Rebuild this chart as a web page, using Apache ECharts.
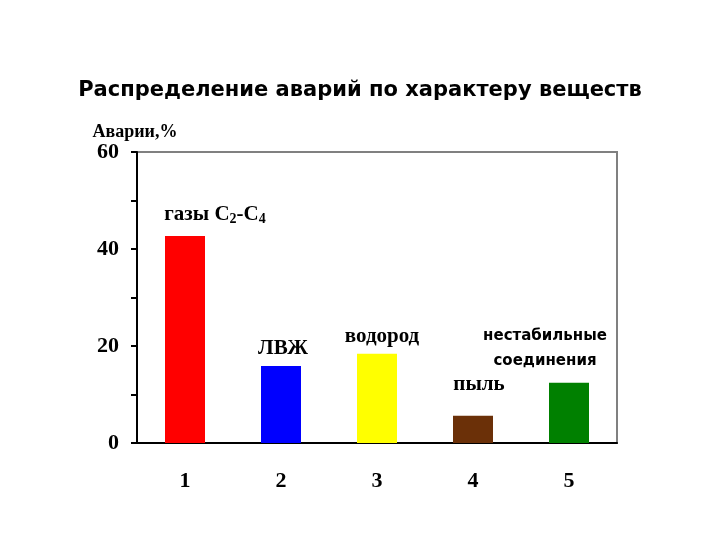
<!DOCTYPE html>
<html>
<head>
<meta charset="utf-8">
<script src="https://cdn.jsdelivr.net/npm/echarts@6/dist/echarts.min.js"></script>
<style>html,body{margin:0;padding:0;background:#fff}#chart{width:720px;height:540px}</style>
</head>
<body>
<div id="chart"></div>
<script>
"use strict";

const categories = ["1", "2", "3", "4", "5"];
const values = [42.7, 15.9, 18.4, 5.6, 12.4];
const barColors = ["#ff0000", "#0000ff", "#ffff00", "#6b3008", "#008000"];
const barNames = ["газы {sub|C}{s|2}{sub|-C}{s|4}", "ЛВЖ", "водород", "пыль", "нестабильные\nсоединения"];
const yTicks = [0, 20, 40, 60];

const serif = "Liberation Serif";
// per-bar label tweaks
const labelOffsets = [[30, -4], [2, 0], [5, 0], [6, -14], [-24, -4]];

const chart = echarts.init(document.getElementById("chart"));

chart.setOption({
  animation: false,
  title: {
    text: "Распределение аварий по характеру веществ",
    left: "center",
    top: 75,
    textStyle: { fontFamily: "DejaVu Sans", fontWeight: "bold", fontSize: 21, color: "#000" }
  },
  grid: {
    left: 137, right: 103, top: 152, bottom: 97,
    show: true, borderColor: "#808080", borderWidth: 2
  },
  xAxis: {
    type: "category",
    data: categories,
    axisLine: { show: true, lineStyle: { color: "#000", width: 2 } },
    axisTick: { show: false },
    axisLabel: { margin: 27, fontFamily: serif, fontWeight: "bold", fontSize: 22, color: "#000" }
  },
  yAxis: {
    type: "value",
    min: yTicks[0], max: yTicks[yTicks.length - 1], interval: 20,
    name: "Аварии,%",
    nameLocation: "end",
    nameGap: 4,
    nameTextStyle: { fontFamily: serif, fontWeight: "bold", fontSize: 18, color: "#000", align: "center", padding: [0, 0, 0, -4] },
    axisLine: { show: true, lineStyle: { color: "#000", width: 2 } },
    axisTick: { show: true, length: 6, lineStyle: { color: "#000", width: 2 } },
    minorTick: { show: true, splitNumber: 2, length: 6, lineStyle: { color: "#000", width: 2 } },
    splitLine: { show: false },
    axisLabel: { margin: 18, fontFamily: serif, fontWeight: "bold", fontSize: 22, color: "#000" }
  },
  series: [{
    type: "bar",
    barWidth: 40,
    data: values.map((v, i) => ({
      value: v,
      itemStyle: { color: barColors[i] },
      label: {
        show: true,
        position: "top",
        offset: labelOffsets[i],
        formatter: barNames[i],
        fontFamily: i === 4 ? "DejaVu Sans" : serif,
        fontWeight: "bold",
        fontSize: i === 4 ? 15 : 21,
        lineHeight: i === 4 ? 25 : 24,
        color: "#000",
        rich: {
          sub: { fontFamily: serif, fontWeight: "bold", fontSize: 21, color: "#000" },
          s: { fontFamily: serif, fontWeight: "bold", fontSize: 14, color: "#000", padding: [8, 0, 0, 0] }
        }
      }
    }))
  }]
});
</script>
</body>
</html>
